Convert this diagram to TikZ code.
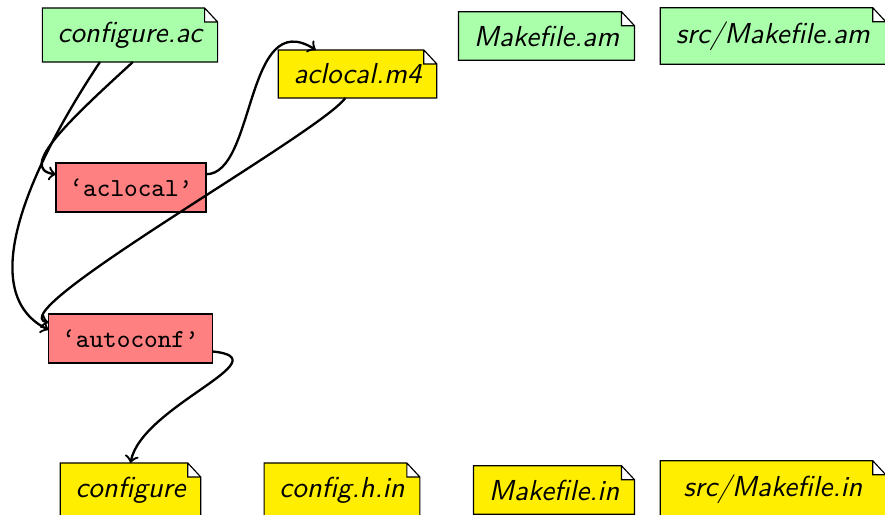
\documentclass[tikz,border=0pt]{standalone}
\usepackage{tikz}
\usetikzlibrary{backgrounds,calc}
\definecolor{amgreen}{RGB}{170,255,170}
\definecolor{genyellow}{RGB}{255,238,0}
\definecolor{toolred}{RGB}{255,128,128}

\begin{document}
\begin{tikzpicture}[x=0.346pt,y=0.346pt,yscale=-1,
  file/.style={inner xsep=5.3pt,inner ysep=4.8pt,outer sep=0pt,font=\sffamily\itshape},
  tool/.style={draw,fill=toolred,inner xsep=4.7pt,inner ysep=5.4pt,outer sep=0pt,font=\small\ttfamily},
  flow/.style={thick,->}]
\useasboundingbox (0,0) rectangle (885,515);
% sources
\node[file] (cfgac) at (130,35) {configure.ac};
\node[file] (mkam) at (546.5,36) {Makefile.am};
\node[file,minimum width=78pt] (srcam) at (773,36) {src/Makefile.am};
\node[file] (m4) at (357.5,74) {aclocal.m4};
% tools
\node[tool] (aclocal) at (131,187.5) {‘aclocal’};
\node[tool] (autoconf) at (130.5,338.5) {‘autoconf’};
% generated
\node[file] (cfg) at (130.5,490) {configure};
\node[file] (cfgh) at (342,490) {config.h.in};
\node[file] (mkin) at (554,490) {Makefile.in};
\node[file,minimum width=78pt] (srcin) at (773,489) {src/Makefile.in};
% dog-eared paper behind the file names
\begin{scope}[on background layer]
\foreach \n/\c in {cfgac/amgreen,mkam/amgreen,srcam/amgreen,m4/genyellow,cfg/genyellow,cfgh/genyellow,mkin/genyellow,srcin/genyellow}
  \draw[fill=\c] (\n.north west) -- ($(\n.north east)+(-13,0)$) -- ($(\n.north east)+(0,14)$) -- (\n.south east) -- (\n.south west) -- cycle
    ($(\n.north east)+(-13,0)$) |- ($(\n.north east)+(0,14)$);
\end{scope}
% arrows
\draw[flow] (cfgac.-84) .. controls +(-60,55) and +(-40,-5) .. (aclocal.170);
\draw[flow] (cfgac.222) .. controls +(-60,90) and +(-80,-40) .. (autoconf.174);
\draw[flow] (aclocal.10) .. controls +(50,0) and +(-71,-45) .. (m4.150);
\draw[flow] (m4.-117) .. controls +(-25,35) and +(-50,-10) .. (autoconf.169);
\draw[flow] (autoconf.-9) .. controls +(72,7) and +(11,-57) .. (cfg.north);
\end{tikzpicture}
\end{document}
